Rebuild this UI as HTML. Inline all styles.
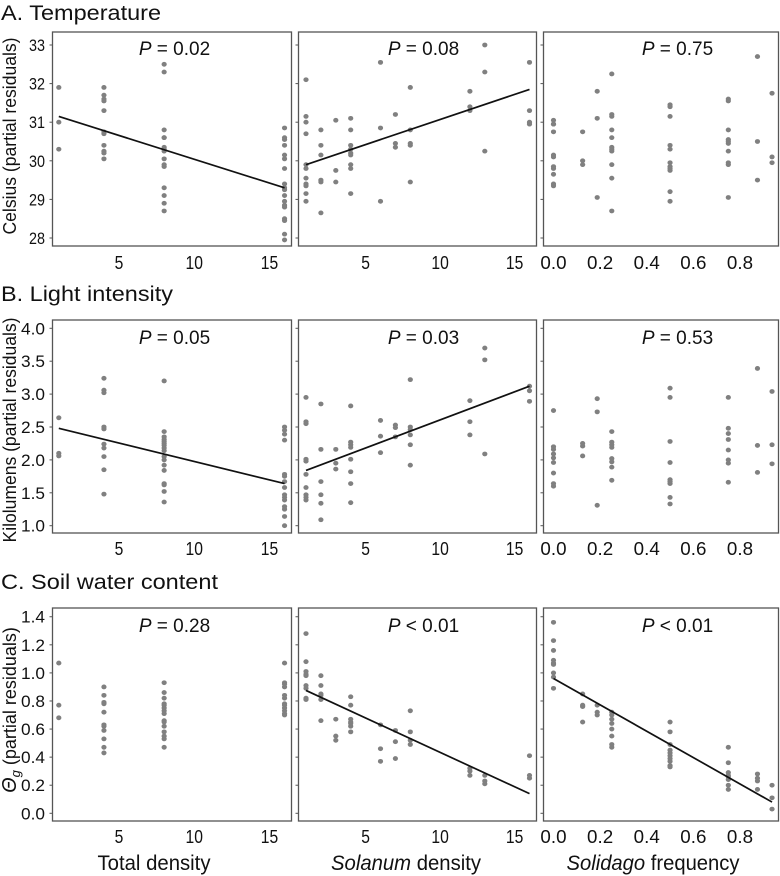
<!DOCTYPE html>
<html><head><meta charset="utf-8"><style>
html,body{margin:0;padding:0;background:#fff;}
svg{display:block;font-family:"Liberation Sans",sans-serif;}
</style></head><body>
<svg id="fig" width="780" height="876" viewBox="0 0 780 876" xmlns="http://www.w3.org/2000/svg"></svg>
<script>
// ---- data ----
const densX = [1,4,8,16];
const solX = [1,2,3,4,6,7,8,12,13,16];
const freqX = [0,0.125,0.1875,0.25,0.5,0.75,0.875,0.9375];

const tempTotalY = [[31.9,31.0,30.3],[31.9,31.7,31.6,31.55,31.3,30.75,30.7,30.4,30.25,30.2,30.05],[32.5,32.3,30.8,30.6,30.6,30.35,30.3,30.25,30.05,29.9,29.85,29.3,29.1,28.9,28.7],[30.85,30.6,30.55,30.4,30.15,30.05,29.8,29.4,29.3,29.25,29.1,28.95,28.85,28.8,28.5,28.45,28.1,27.95]];
const tempSolY = [[32.1,31.15,31.0,30.7,29.9,29.8,29.55,29.4,29.35,29.15,28.95],[30.8,30.4,30.15,29.5,29.45,28.65],[31.05,29.75,29.45],[31.1,30.8,30.4,30.3,30.2,30.15,29.9,29.8,29.15],[32.55,30.85,28.95],[31.2,30.45,30.35],[31.9,30.8,30.45,30.4,29.45],[31.8,31.4,31.3],[33.0,32.3,30.25],[32.55,31.3,31.0,30.95]];
const tempFreqY = [[31.05,30.95,30.95,30.75,30.15,30.1,29.85,29.8,29.65,29.4,29.35],[30.75,30.0,29.9],[31.8,31.1,29.05],[32.25,31.2,31.15,30.8,30.6,30.35,30.3,30.25,29.9,29.55,28.7],[31.45,31.4,31.15,30.4,30.3,29.95,29.85,29.8,29.75,29.2,28.95],[31.6,31.55,30.8,30.55,30.5,30.45,30.25,29.95,29.9,29.05],[32.7,30.5,29.5],[31.75,30.1,29.95]];

const lightTotalY = [[2.64,2.1,2.06],[3.24,3.06,3.02,2.5,2.47,2.24,2.18,2.05,1.85,1.48],[3.2,2.43,2.35,2.31,2.28,2.25,2.22,2.18,2.14,2.05,2.0,1.92,1.84,1.64,1.62,1.52,1.36],[2.5,2.45,2.39,2.3,1.78,1.75,1.67,1.58,1.47,1.43,1.39,1.29,1.25,1.14,1.0]];
const lightSolY = [[2.95,2.58,2.55,2.01,1.98,1.78,1.58,1.47,1.43,1.39],[2.85,2.16,1.67,1.47,1.34,1.09],[2.16,1.95,1.86],[2.82,2.27,2.23,2.19,2.01,1.82,1.64,1.35],[2.6,2.36,2.11],[2.53,2.49,2.35],[3.22,2.5,2.46,2.38,2.23,1.92],[2.9,2.58,2.38],[3.7,3.52,2.09],[3.12,3.05,2.89]];
const lightFreqY = [[2.75,2.2,2.16,2.09,2.03,1.96,1.8,1.64,1.6],[2.25,2.21,2.06],[2.93,2.73,1.31],[2.43,2.27,2.23,2.19,2.02,1.97,1.89,1.69],[3.09,2.95,2.28,1.96,1.7,1.67,1.64,1.43,1.33],[2.95,2.48,2.4,2.31,2.15,2.0,1.95,1.66],[3.39,2.22,1.81],[3.04,2.23,1.94]];

const soilTotalY = [[1.07,0.77,0.68],[0.9,0.84,0.79,0.78,0.72,0.63,0.62,0.59,0.53,0.47,0.43],[0.93,0.86,0.82,0.78,0.77,0.75,0.73,0.71,0.66,0.65,0.62,0.58,0.55,0.53,0.47],[1.07,0.93,0.92,0.9,0.84,0.82,0.78,0.77,0.75,0.73,0.71,0.7]];
const soilSolY = [[1.28,1.08,1.01,0.99,0.98,0.91,0.89,0.82,0.81],[0.98,0.91,0.85,0.84,0.81,0.66],[0.67,0.55,0.52],[0.83,0.77,0.67,0.65,0.64,0.62,0.58],[0.63,0.46,0.37],[0.59,0.51,0.39],[0.73,0.58,0.52,0.49],[0.32,0.3,0.27],[0.27,0.23,0.21],[0.41,0.27,0.25]];
const soilFreqY = [[1.36,1.23,1.16,1.09,1.07,1.06,1.0,0.97,0.89],[0.85,0.77,0.76,0.65],[0.77,0.72,0.7],[0.72,0.7,0.67,0.64,0.6,0.55,0.49,0.47],[0.65,0.58,0.49,0.45,0.43,0.41,0.39,0.37,0.34,0.33],[0.47,0.36,0.29,0.27,0.26,0.24,0.2,0.17],[0.28,0.25,0.23,0.17],[0.2,0.11,0.03]];

const fitTempTotal = [[1,31.15],[16,29.3]];
const fitTempSol = [[1,29.9],[16,31.85]];
const fitLightTotal = [[1,2.48],[16,1.64]];
const fitLightSol = [[1,1.84],[16,3.12]];
const fitSoilSol = [[1,0.875],[16,0.14]];
const fitSoilFreq = [[0,0.96],[0.9375,0.08]];

const pLabels = [["= 0.02","= 0.08","= 0.75"],["= 0.05","= 0.03","= 0.53"],["= 0.28","< 0.01","< 0.01"]];
const rowTitles = ["A. Temperature","B. Light intensity","C. Soil water content"];
const yTicksA = [28,29,30,31,32,33];
const yTicksB = [1.0,1.5,2.0,2.5,3.0,3.5,4.0];
const yTicksC = [0.0,0.2,0.4,0.6,0.8,1.0,1.2,1.4];
const xTicksDens = [5,10,15];
const xTicksFreq = [0.0,0.2,0.4,0.6,0.8];

// ---- layout ----
const svg = document.getElementById('fig');
const NS = 'http://www.w3.org/2000/svg';
function mk(tag, attrs, parent){const e=document.createElementNS(NS,tag);for(const k in attrs)e.setAttribute(k,attrs[k]);(parent||svg).appendChild(e);return e;}

const cols = [{x0:52.5,x1:291.5,pc:174.5,scale:v=>58.8+(v-1)*15.05,ticks:xTicksDens,fmt:v=>String(v)},
              {x0:298.5,x1:536.5,pc:423.5,scale:v=>306+(v-1)*14.9,ticks:xTicksDens,fmt:v=>String(v)},
              {x0:543.5,x1:778.5,pc:677.5,scale:v=>553.5+v*233.1,ticks:xTicksFreq,fmt:v=>v.toFixed(1)}];
const rows = [
 {top:32,bot:246,yscale:v=>238-(v-28)*38.6,ticks:yTicksA,fmt:v=>String(v),titleY:20,titleW:160,pY:55,xlabY:269,ytitle:"Celsius (partial residuals)",ymid:136,ylen:197,
  data:[[densX,tempTotalY,fitTempTotal],[solX,tempSolY,fitTempSol],[freqX,tempFreqY,null]]},
 {top:320,bot:533,yscale:v=>525.7-(v-1)*65.8,ticks:yTicksB,fmt:v=>v.toFixed(1),titleY:301,titleW:172,pY:344,xlabY:555,ytitle:"Kilolumens  (partial residuals)",ymid:430,ylen:225,
  data:[[densX,lightTotalY,fitLightTotal],[solX,lightSolY,fitLightSol],[freqX,lightFreqY,null]]},
 {top:608,bot:821,yscale:v=>813.3-v*140.4,ticks:yTicksC,fmt:v=>v.toFixed(1),titleY:589,titleW:217,pY:632,xlabY:843,ytitle:"(partial residuals)",ymid:710,ylen:180,
  data:[[densX,soilTotalY,null],[solX,soilSolY,fitSoilSol],[freqX,soilFreqY,fitSoilFreq]]}
];
const rowNames=['temperature','light','soil'];
const colNames=['total-density','solanum-density','solidago-frequency'];

rows.forEach((r,ri)=>{
  const g = mk('g',{});
  
  
  const t = mk('text',{x:1,y:r.titleY,'font-size':21,textLength:r.titleW,lengthAdjust:'spacingAndGlyphs',fill:'#111'},g);
  t.textContent = rowTitles[ri];
  
  
  const yt = mk('text',{x:0,y:0,'font-size':18,'text-anchor':'middle',fill:'#111',transform:`translate(16,${r.ymid}) rotate(-90)`},g);
  if(ri===2){
    yt.innerHTML = '<tspan font-style="italic" font-size="20">Θ</tspan><tspan font-style="italic" font-size="13" dy="4">g</tspan><tspan dy="-4"> (partial residuals)</tspan>';
  } else { yt.textContent = r.ytitle; yt.setAttribute('textLength', r.ylen); yt.setAttribute('lengthAdjust','spacingAndGlyphs'); }
  
  
  r.ticks.forEach(v=>{
    const y=r.yscale(v);
    const tl=mk('text',{x:45,y:y+6,'font-size':17,'text-anchor':'end',fill:'#111',textLength:r.fmt(v).length*8,lengthAdjust:'spacingAndGlyphs'},g);
    tl.textContent=r.fmt(v);
    
    
  });
  cols.forEach((c,ci)=>{
    const pg = mk('g',{},g);
    
    
    const box=mk('rect',{x:c.x0,y:r.top,width:c.x1-c.x0,height:r.bot-r.top,fill:'none',stroke:'#555','stroke-width':1.3},pg);
    
    
    r.ticks.forEach(v=>{
      const y=r.yscale(v);
      mk('line',{x1:c.x0-3,x2:c.x0,y1:y,y2:y,stroke:'#555','stroke-width':1},pg);
    });
    c.ticks.forEach(v=>{
      const x=c.scale(v);
      const tl=mk('text',{x:x,y:r.xlabY,'font-size':18,'text-anchor':'middle',fill:'#111',textLength:c.fmt(v).length*8.7,lengthAdjust:'spacingAndGlyphs'},pg);
      tl.textContent=c.fmt(v);
      
      
    });
    const [xs,ys,fit]=r.data[ci];
    xs.forEach((xv,i)=>{
      ys[i].forEach(yv=>{
        const p=mk('ellipse',{cx:c.scale(xv),cy:r.yscale(yv),rx:2.6,ry:2.4,fill:'#808080'},pg);
        
        
      });
    });
    if(fit){
      const l=mk('line',{x1:c.scale(fit[0][0]),y1:r.yscale(fit[0][1]),x2:c.scale(fit[1][0]),y2:r.yscale(fit[1][1]),stroke:'#111','stroke-width':1.7},pg);
      
      
    }
    const pl=mk('text',{x:c.pc,y:r.pY,'font-size':19,'text-anchor':'middle',fill:'#111'},pg);
    pl.innerHTML='<tspan font-style="italic">P</tspan> '+pLabels[ri][ci].replace('<','&lt;');
    
    
  });
});
const xt=[["Total density",154,"",113],["density",406,"Solanum",150],["frequency",653,"Solidago",173]];
xt.forEach((a,i)=>{
  const t=mk('text',{x:a[1],y:870,'font-size':21,'text-anchor':'middle',fill:'#111',textLength:a[3],lengthAdjust:'spacingAndGlyphs'});
  t.innerHTML = a[2]? '<tspan font-style="italic">'+a[2]+'</tspan> '+a[0] : a[0];
  
  
});
</script>
</body></html>
